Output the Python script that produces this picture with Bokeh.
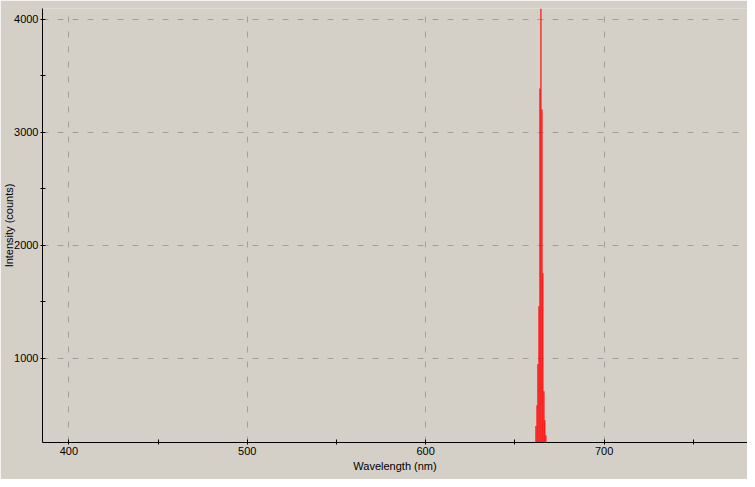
from bokeh.plotting import figure
from bokeh.models import FixedTicker, Range1d, ColumnDataSource
from bokeh.embed import file_html
from bokeh.resources import INLINE

# Spectrum data (peak region; everything else is below the visible range)
wavelength = [661.8, 662.4, 662.9, 663.5, 664.05, 664.6, 665.2, 665.7, 666.3, 666.8, 667.4]
intensity = [400, 584, 947, 1460, 3387, 4095, 3202, 1752, 708, 452, 319]

x_major = [400, 500, 600, 700]
x_minor = [450, 550, 650, 750]
y_major = [1000, 2000, 3000, 4000]
y_minor = [1500, 2500, 3500]

BG = "#d4d0c8"
FONT = "Liberation Sans"

p = figure(width=747, height=479, output_backend="svg", toolbar_location=None,
           x_range=Range1d(385.2, 780.4), y_range=Range1d(255, 4095),
           min_border_left=42, min_border_top=8, min_border_right=0, min_border_bottom=37)
p.toolbar.logo = None
p.background_fill_color = BG
p.border_fill_color = BG
p.outline_line_color = None

src = ColumnDataSource(dict(x=wavelength, top=intensity))
p.vbar(x="x", top="top", bottom=0, width=0.62, source=src,
       fill_color="#ff0000", line_color=None)

p.xaxis.ticker = FixedTicker(ticks=x_major, minor_ticks=x_minor)
p.yaxis.ticker = FixedTicker(ticks=y_major, minor_ticks=y_minor)

for ax in (p.xaxis[0], p.yaxis[0]):
    ax.axis_line_color = "black"
    ax.axis_line_width = 1
    ax.major_tick_line_color = "black"
    ax.minor_tick_line_color = "black"
    ax.major_tick_in = 3
    ax.major_tick_out = 2
    ax.minor_tick_in = 3
    ax.minor_tick_out = 2
    ax.major_label_text_font = FONT
    ax.major_label_text_font_size = "11px"
    ax.major_label_text_color = "black"
    ax.major_label_standoff = 2
    ax.axis_label_text_font = FONT
    ax.axis_label_text_font_size = "11px"
    ax.axis_label_text_font_style = "normal"
    ax.axis_label_text_color = "black"

p.xaxis.axis_label = "Wavelength (nm)"
p.yaxis.axis_label = "Intensity (counts)"
p.xaxis.axis_label_standoff = 2
p.yaxis.axis_label_standoff = -4

for g in (p.xgrid[0], p.ygrid[0]):
    g.grid_line_color = "#a0a0a0"
    g.grid_line_dash = "6 9"
    g.grid_line_width = 1

open("out.html", "w").write(file_html(p, INLINE))
